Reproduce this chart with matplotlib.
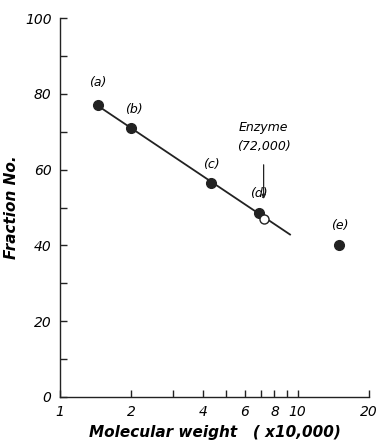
import matplotlib
matplotlib.use("Agg")
import matplotlib.pyplot as plt
import numpy as np

# standards (x10,000) and fraction numbers
std_names = ["(a)", "(b)", "(c)", "(d)"]
std_mw = [1.44, 2.0, 4.33, 6.9]
std_frac = [77.0, 70.9, 56.4, 48.6]
# outlier (e)
e_mw = [15.0]
e_frac = [40.0]
# enzyme
enz_mw = [7.2]
enz_frac = [47.0]
line_end = 9.3

xticks = [1, 2, 3, 4, 5, 6, 7, 8, 9, 10, 20]
xlabels = {1: "1", 2: "2", 4: "4", 6: "6", 8: "8", 10: "10", 20: "20"}

plt.rcParams['font.family'] = ['DejaVu Sans']
fig = plt.figure(figsize=(3.79, 4.42), dpi=100)
ax = fig.add_axes([60/379, 1-397/442, 309/379, (397-18)/442])

ax.set_xscale("log")
ax.set_xlim(1, 20)
ax.set_ylim(0, 100)

# fitted line through standards
p = np.polyfit(np.log10(std_mw), std_frac, 1)
lx = np.array([std_mw[0], line_end])
ax.plot(lx, np.polyval(p, np.log10(lx)), color="#222222", lw=1.3, zorder=2)

ax.plot(std_mw, std_frac, "o", color="#222222", ms=7, zorder=3)
ax.plot(e_mw, e_frac, "o", color="#222222", ms=7, zorder=3)
ax.plot(enz_mw, enz_frac, "o", mfc="white", mec="#222222", ms=6.5, mew=1, zorder=4)

lab_off = [(0, 10), (2, 7), (0, 7), (0, 7)]
for n, x, y, (dx, dy) in zip(std_names, std_mw, std_frac, lab_off):
    ax.annotate(n, (x, y), xytext=(dx, dy + 2), textcoords="offset points",
                ha="center", va="bottom", fontsize=9, style="italic")
ax.annotate("(e)", (e_mw[0], e_frac[0]), xytext=(0, 10), textcoords="offset points",
            ha="center", va="bottom", fontsize=9, style="italic")

ax.annotate("", xy=(enz_mw[0], enz_frac[0] + 4.5), xytext=(enz_mw[0], enz_frac[0] + 15),
            arrowprops=dict(arrowstyle="-|>", color="#222222", lw=0.9,
                            mutation_scale=6))
ax.text(enz_mw[0], enz_frac[0] + 22.5, "Enzyme", ha="center", va="bottom",
        fontsize=9, style="italic")
ax.text(enz_mw[0], enz_frac[0] + 17.5, "(72,000)", ha="center", va="bottom",
        fontsize=9, style="italic")

ax.spines["top"].set_visible(False)
ax.spines["right"].set_visible(False)
for s in ["left", "bottom"]:
    ax.spines[s].set_linewidth(1.0)
    ax.spines[s].set_color("#222222")

ax.set_yticks([0, 20, 40, 60, 80, 100])
ax.set_yticks([10, 30, 50, 70, 90], minor=True)
ax.set_xticks(xticks)
ax.set_xticklabels([xlabels.get(t, "") for t in xticks])
ax.xaxis.set_minor_locator(matplotlib.ticker.NullLocator())
ax.tick_params(axis="both", which="both", direction="in", length=5, width=1,
               color="#222222", labelsize=10)
ax.tick_params(axis="y", pad=6)
ax.tick_params(axis="x", pad=6)
for t in ax.get_xticklabels() + ax.get_yticklabels():
    t.set_style("italic")

ax.set_xlabel("Molecular weight   ( x10,000)", fontsize=11, fontweight="bold",
              style="italic", labelpad=4)
ax.set_ylabel("Fraction No.", fontsize=11, fontweight="bold", style="italic",
              labelpad=4)

fig.savefig("out.png", dpi=100)
